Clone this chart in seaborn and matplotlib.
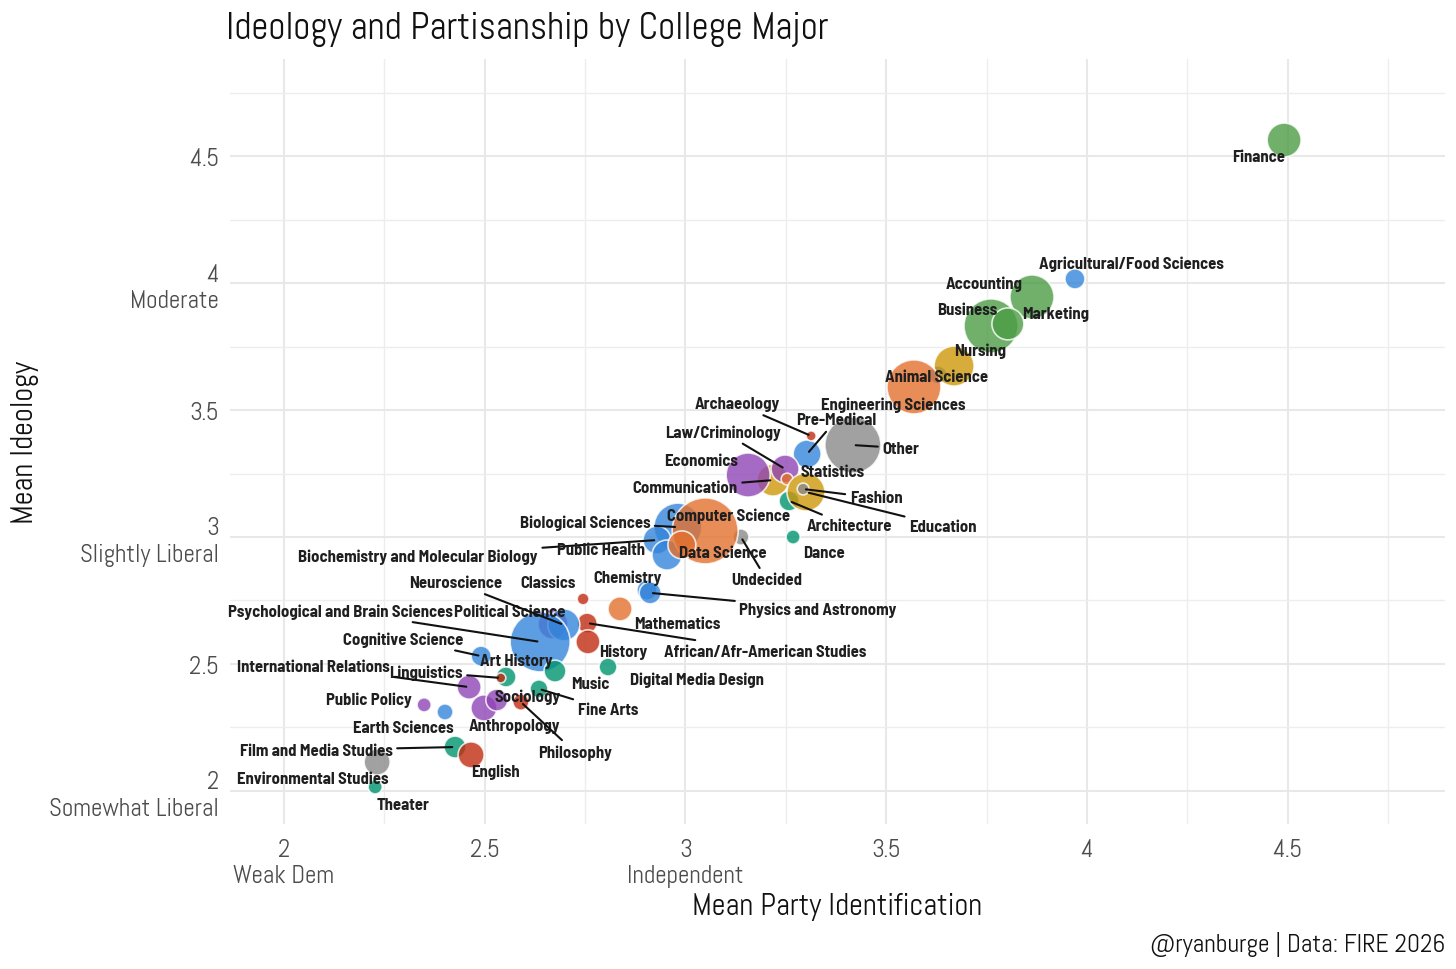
import matplotlib
matplotlib.use("Agg")
import numpy as np
import pandas as pd
import matplotlib.pyplot as plt
from matplotlib import font_manager
import seaborn as sns

# ---- data ----
majors = [
    "Finance", "Agricultural/Food Sciences", "Accounting", "Business", "Marketing",
    "Animal Science", "Nursing", "Engineering Sciences", "Other", "Pre-Medical",
    "Archaeology", "Communication", "Economics", "Law/Criminology", "Statistics",
    "Architecture", "Education", "Fashion", "Dance", "Undecided",
    "Biological Sciences", "Biochemistry and Molecular Biology", "Public Health",
    "Computer Science", "Data Science", "Chemistry", "Physics and Astronomy",
    "Mathematics", "Classics", "African/Afr-American Studies", "History",
    "Political Science", "Neuroscience", "Psychological and Brain Sciences",
    "Cognitive Science", "Art History", "Linguistics", "International Relations",
    "Music", "Digital Media Design", "Sociology", "Anthropology", "Fine Arts",
    "Philosophy", "Public Policy", "Earth Sciences", "Film and Media Studies",
    "English", "Environmental Studies", "Theater",
]
party = [
    4.491, 3.970, 3.863, 3.761, 3.803,
    3.629, 3.669, 3.569, 3.417, 3.303,
    3.313, 3.218, 3.156, 3.248, 3.253,
    3.258, 3.300, 3.293, 3.268, 3.138,
    2.981, 2.929, 2.954,
    3.049, 2.991, 2.904, 2.912,
    2.837, 2.745, 2.755, 2.757,
    2.670, 2.697, 2.638,
    2.491, 2.553, 2.540, 2.461,
    2.675, 2.807, 2.498, 2.530, 2.635,
    2.590, 2.349, 2.401, 2.426,
    2.466, 2.232, 2.227,
]
ideology = [
    4.563, 4.016, 3.945, 3.831, 3.839,
    3.638, 3.673, 3.591, 3.362, 3.327,
    3.398, 3.224, 3.244, 3.268, 3.228,
    3.142, 3.177, 3.189, 3.000, 3.000,
    3.039, 2.988, 2.929,
    3.024, 2.969, 2.791, 2.780,
    2.717, 2.756, 2.661, 2.587,
    2.657, 2.654, 2.587,
    2.531, 2.449, 2.445, 2.409,
    2.472, 2.488, 2.327, 2.358, 2.402,
    2.350, 2.339, 2.311, 2.173,
    2.142, 2.114, 2.016,
]
respondents = [
    1150, 400, 1940, 2920, 1020,
    320, 1600, 2920, 3140, 780,
    100, 1020, 1940, 780, 140,
    400, 1440, 140, 200, 260,
    2300, 780, 900,
    4360, 780, 400, 480,
    580, 140, 400, 580,
    900, 1020, 3600,
    400, 400, 100, 580,
    480, 320, 680, 480, 320,
    260, 200, 260, 480,
    680, 680, 200,
]
field = [
    "Business", "Science", "Business", "Business", "Business",
    "Science", "Professional", "Quantitative", "Other", "Science",
    "Humanities", "Professional", "Social Science", "Social Science", "Quantitative",
    "Arts", "Professional", "Other", "Arts", "Other",
    "Science", "Science", "Science",
    "Quantitative", "Quantitative", "Science", "Science",
    "Quantitative", "Humanities", "Humanities", "Humanities",
    "Social Science", "Science", "Science",
    "Science", "Arts", "Humanities", "Social Science",
    "Arts", "Arts", "Social Science", "Social Science", "Arts",
    "Humanities", "Social Science", "Science", "Arts",
    "Humanities", "Other", "Arts",
]

x_ticks = [2, 2.5, 3, 3.5, 4, 4.5]
x_tick_labels = ["2\nWeak Dem", "2.5", "3\nIndependent", "3.5", "4", "4.5"]
y_ticks = [2, 2.5, 3, 3.5, 4, 4.5]
y_tick_labels = ["2\nSomewhat Liberal", "2.5", "3\nSlightly Liberal", "3.5", "4\nModerate", "4.5"]

# ---- label placement (screen pixel offsets from each point, like ggrepel's result) ----
label_offset = {
    "Finance": (-25, 16), "Agricultural/Food Sciences": (56, -16), "Accounting": (-48, -14),
    "Marketing": (48, -11), "Business": (-24, -16), "Nursing": (26, -16),
    "Engineering Sciences": (-21, 17), "Animal Science": (-1, 2), "Other": (48, 3),
    "Pre-Medical": (29, -34), "Archaeology": (-74, -32), "Law/Criminology": (-62, -37),
    "Economics": (-47, -15), "Communication": (-88, 7), "Statistics": (45, -8),
    "Education": (137, 34), "Fashion": (73, 9), "Architecture": (60, 25),
    "Dance": (31, 16), "Undecided": (26, 43), "Computer Science": (23, -16),
    "Data Science": (41, 8), "Biological Sciences": (-93, -5),
    "Biochemistry and Molecular Biology": (-239, 16), "Public Health": (-66, -6),
    "Chemistry": (-19, -13), "Physics and Astronomy": (168, 16), "Mathematics": (57, 15),
    "Classics": (-35, -16), "African/Afr-American Studies": (178, 28), "History": (35, 9),
    "Neuroscience": (-108, -42), "Political Science": (-43, -13),
    "Psychological and Brain Sciences": (-200, -31), "Cognitive Science": (-78, -17),
    "Art History": (10, -17), "Linguistics": (-75, -6), "International Relations": (-156, -21),
    "Music": (35, 12), "Digital Media Design": (89, 12), "Sociology": (44, -12),
    "Anthropology": (18, 25), "Fine Arts": (69, 21), "Philosophy": (54, 50),
    "Public Policy": (-55, -6), "Earth Sciences": (-42, 16), "Film and Media Studies": (-139, 3),
    "English": (24, 16), "Environmental Studies": (-64, 16), "Theater": (28, 18),
}
with_segment = {
    "Other", "Pre-Medical", "Archaeology", "Law/Criminology", "Communication", "Education",
    "Fashion", "Architecture", "Undecided", "Biological Sciences",
    "Biochemistry and Molecular Biology", "Physics and Astronomy",
    "African/Afr-American Studies", "Neuroscience", "Psychological and Brain Sciences",
    "Cognitive Science", "Linguistics", "International Relations", "Fine Arts",
    "Philosophy", "Film and Media Studies",
}

palette = {
    "Business": "#4C9C45", "Science": "#3485DA", "Quantitative": "#E4712E",
    "Professional": "#CD9708", "Social Science": "#8F45B5", "Humanities": "#C12C12",
    "Arts": "#009470", "Other": "#8A8A8A",
}

df = pd.DataFrame({"major": majors, "party": party, "ideology": ideology,
                   "n": respondents, "field": field})


def pick(cands, fallback="DejaVu Sans"):
    avail = {f.name for f in font_manager.fontManager.ttflist}
    for c in cands:
        if c in avail:
            return c
    return fallback


thin_font = pick(["Abel", "Roboto Condensed", "Roboto"])
label_font = pick(["Barlow Semi Condensed", "Barlow Condensed", "Roboto Condensed", "Roboto"])

sns.set_theme(style="white")
plt.rcParams["font.family"] = [thin_font, "DejaVu Sans"]

fig = plt.figure(figsize=(14.56, 9.70), dpi=100)
ax = fig.add_axes([230 / 1456, 1 - 825 / 970, 1215 / 1456, 765 / 970])

sns.scatterplot(data=df, x="party", y="ideology", hue="field", palette=palette,
                size="n", sizes=(0, 0.5184 * 4400), size_norm=(0, 4400),
                alpha=0.8, edgecolor="white", linewidth=1.2, legend=False, ax=ax, zorder=3)

notes = []
for name, px, py in zip(majors, party, ideology):
    dx, dy = label_offset[name]
    kw = {}
    if name in with_segment:
        kw["arrowprops"] = dict(arrowstyle="-", color="#111111", lw=1.5,
                                shrinkA=1, shrinkB=2)
    a = ax.annotate(name, xy=(px, py), xytext=(dx, -dy), textcoords="offset pixels",
                    ha="center", va="center", fontsize=12, fontweight="bold",
                    family=[label_font, "DejaVu Sans"], color="#1f1f1f", zorder=5, **kw)
    if name in with_segment:
        notes.append(a)

ax.set_xlim(1.8655, 4.8917)
ax.set_ylim(1.870, 4.882)
ax.set_xticks(x_ticks)
ax.set_xticklabels(x_tick_labels)
ax.set_yticks(y_ticks)
ax.set_yticklabels(y_tick_labels)
ax.set_xticks(np.arange(2.25, 4.9, 0.5), minor=True)
ax.set_yticks(np.arange(2.25, 4.9, 0.5), minor=True)
ax.grid(True, which="major", color="#e8e8e8", lw=1.5, zorder=0)
ax.grid(True, which="minor", color="#ededed", lw=1.0, zorder=0)
ax.set_axisbelow(True)
for s in ax.spines.values():
    s.set_visible(False)
ax.tick_params(axis="both", which="both", length=0, labelsize=18, labelcolor="#4d4d4d")
ax.tick_params(axis="x", pad=10)
ax.tick_params(axis="y", pad=8)

ax.set_xlabel("Mean Party Identification", fontsize=22, color="#111111")
ax.set_ylabel("Mean Ideology", fontsize=22, color="#111111")
ax.xaxis.label.set_va("center")
ax.yaxis.label.set_va("center")
ax.xaxis.set_label_coords(0.5, -0.1072)
ax.yaxis.set_label_coords(-0.1687, 0.5)

fig.text(226 / 1456, 1 - 39 / 970, "Ideology and Partisanship by College Major",
         fontsize=27, color="#111111", ha="left", va="baseline")
fig.text(1445 / 1456, 1 - 952 / 970, "@ryanburge | Data: FIRE 2026",
         fontsize=18.4, color="#111111", ha="right", va="baseline")

# start each segment at the label-box point nearest to its dot (as ggrepel does)
fig.canvas.draw()
renderer = fig.canvas.get_renderer()
for a in notes:
    bb = a.get_window_extent(renderer)
    tx, ty = ax.transData.transform(a.xy)
    cx = min(max(tx, bb.x0), bb.x1)
    cy = min(max(ty, bb.y0), bb.y1)
    a.arrowprops["relpos"] = ((cx - bb.x0) / bb.width, (cy - bb.y0) / bb.height)

fig.savefig("out.png", dpi=100)
